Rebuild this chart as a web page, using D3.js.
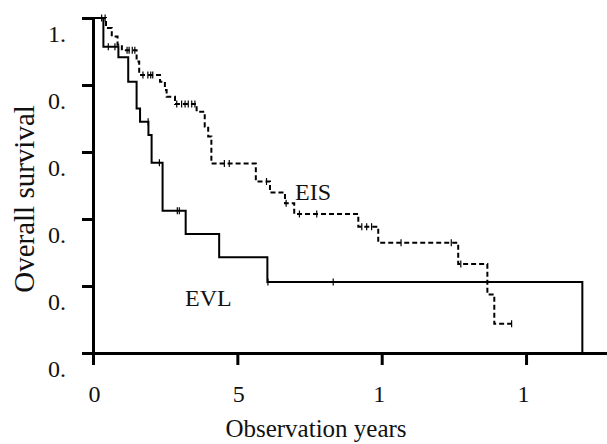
<!DOCTYPE html>
<html>
<head>
<meta charset="utf-8">
<script src="https://cdn.jsdelivr.net/npm/d3@7"></script>
<style>
  body { margin: 0; background: #fff; }
  text { font-family: "Liberation Serif", "Times New Roman", serif; fill: #111; }
</style>
</head>
<body>
<div id="chart"></div>
<script>
// Kaplan-Meier curves (years, survival proportion)
var evlTimes = [0, 0.36, 0.88, 1.22, 1.51, 1.63, 1.92, 2.03, 2.41, 3.21, 4.37, 6.04, 16.95];
var evlSurv  = [1.0, 0.914, 0.883, 0.81, 0.73, 0.69, 0.651, 0.568, 0.425, 0.355, 0.286, 0.212, 0];
var evlCensor = [0.53, 0.76, 1.91, 2.30, 2.92, 2.99, 6.06, 8.32];

var eisTimes = [0, 0.45, 0.65, 0.85, 1.0, 1.51, 1.6, 2.32, 2.49, 2.55, 2.84, 3.59, 3.87, 3.99, 4.1,
                5.64, 6.13, 6.65, 6.97, 9.19, 9.88, 12.65, 13.66, 13.9, 14.5];
var eisSurv  = [1.0, 0.97, 0.945, 0.92, 0.904, 0.87, 0.83, 0.81, 0.785, 0.765, 0.743, 0.72, 0.676, 0.646, 0.566,
                0.512, 0.479, 0.447, 0.415, 0.377, 0.329, 0.266, 0.175, 0.087, 0.087];
var eisCensor = [0.30, 0.42, 1.18, 1.25, 1.36, 1.45, 1.73, 1.9, 2.0, 2.07, 2.9, 3.07, 3.19, 3.3, 3.42, 3.53,
                 4.55, 4.72, 6.01, 6.69, 7.15, 7.75, 9.31, 9.48, 9.65, 10.67, 12.41, 12.74, 14.5];

var xTicks = [0, 5, 10, 15];
var xTickLabels = ["0", "5", "1", "1"];
var yTicks = [0, 0.2, 0.4, 0.6, 0.8, 1.0];
var yTickLabels = ["0.", "0.", "0.", "0.", "0.", "1."];

var width = 607, height = 444;

var svg = d3.select("#chart").append("svg")
    .attr("width", width)
    .attr("height", height);

var x = d3.scaleLinear().domain([0, 20]).range([93, 670.4]);
var y = d3.scaleLinear().domain([0, 1]).range([353, 18]);

// axes
var yAxis = svg.append("g")
    .attr("transform", "translate(93,0)")
    .call(d3.axisLeft(y).tickValues(yTicks).tickSize(11).tickSizeOuter(0)
      .tickFormat(function(d, i) { return yTickLabels[i]; }));

var xAxis = svg.append("g")
    .attr("transform", "translate(0,353)")
    .call(d3.axisBottom(x).tickValues(xTicks).tickSize(12).tickSizeOuter(0)
      .tickFormat(function(d, i) { return xTickLabels[i]; }));

svg.selectAll(".domain, .tick line")
    .attr("stroke", "#000")
    .attr("stroke-width", 3);

yAxis.selectAll(".tick text")
    .attr("x", -45)
    .attr("dy", 23)
    .attr("text-anchor", "start")
    .style("font-size", "24px");

xAxis.selectAll(".tick text")
    .attr("y", 49)
    .attr("dy", 0)
    .attr("dx", function(d) { return d >= 10 ? -3 : 1; })
    .style("font-size", "24px");

svg.selectAll(".tick text").style("font-family", "'Liberation Serif', serif").attr("fill", "#111");

// step curves
var line = d3.line()
    .x(function(d) { return x(d[0]); })
    .y(function(d) { return y(d[1]); })
    .curve(d3.curveStepAfter);

function series(times, surv) {
  return times.map(function(t, i) { return [t, surv[i]]; });
}

function survAt(times, surv, t) {
  var s = surv[0];
  for (var i = 0; i < times.length; i++) { if (times[i] <= t) s = surv[i]; }
  return s;
}

svg.append("path")
    .datum(series(evlTimes, evlSurv))
    .attr("fill", "none")
    .attr("stroke", "#000")
    .attr("stroke-width", 2)
    .attr("d", line);

svg.append("path")
    .datum(series(eisTimes, eisSurv))
    .attr("fill", "none")
    .attr("stroke", "#000")
    .attr("stroke-width", 2)
    .attr("stroke-dasharray", "5,3")
    .attr("d", line);

// censor marks
function censorMarks(times, surv, cens) {
  svg.append("g").selectAll("line")
      .data(cens)
    .enter().append("line")
      .attr("x1", function(d) { return x(d); })
      .attr("x2", function(d) { return x(d); })
      .attr("y1", function(d) { return y(survAt(times, surv, d)) - 3.5; })
      .attr("y2", function(d) { return y(survAt(times, surv, d)) + 3.5; })
      .attr("stroke", "#000")
      .attr("stroke-width", 1.2);
}
censorMarks(evlTimes, evlSurv, evlCensor);
censorMarks(eisTimes, eisSurv, eisCensor);

// labels
svg.append("text").attr("x", 295).attr("y", 200).style("font-size", "24px").text("EIS");
svg.append("text").attr("x", 185).attr("y", 306).style("font-size", "24px").text("EVL");

svg.append("text")
    .attr("x", 316).attr("y", 437)
    .attr("text-anchor", "middle")
    .style("font-size", "25px")
    .text("Observation years");

svg.append("text")
    .attr("transform", "translate(34,199) rotate(-90)")
    .attr("text-anchor", "middle")
    .style("font-size", "29px")
    .text("Overall survival");
</script>
</body>
</html>
